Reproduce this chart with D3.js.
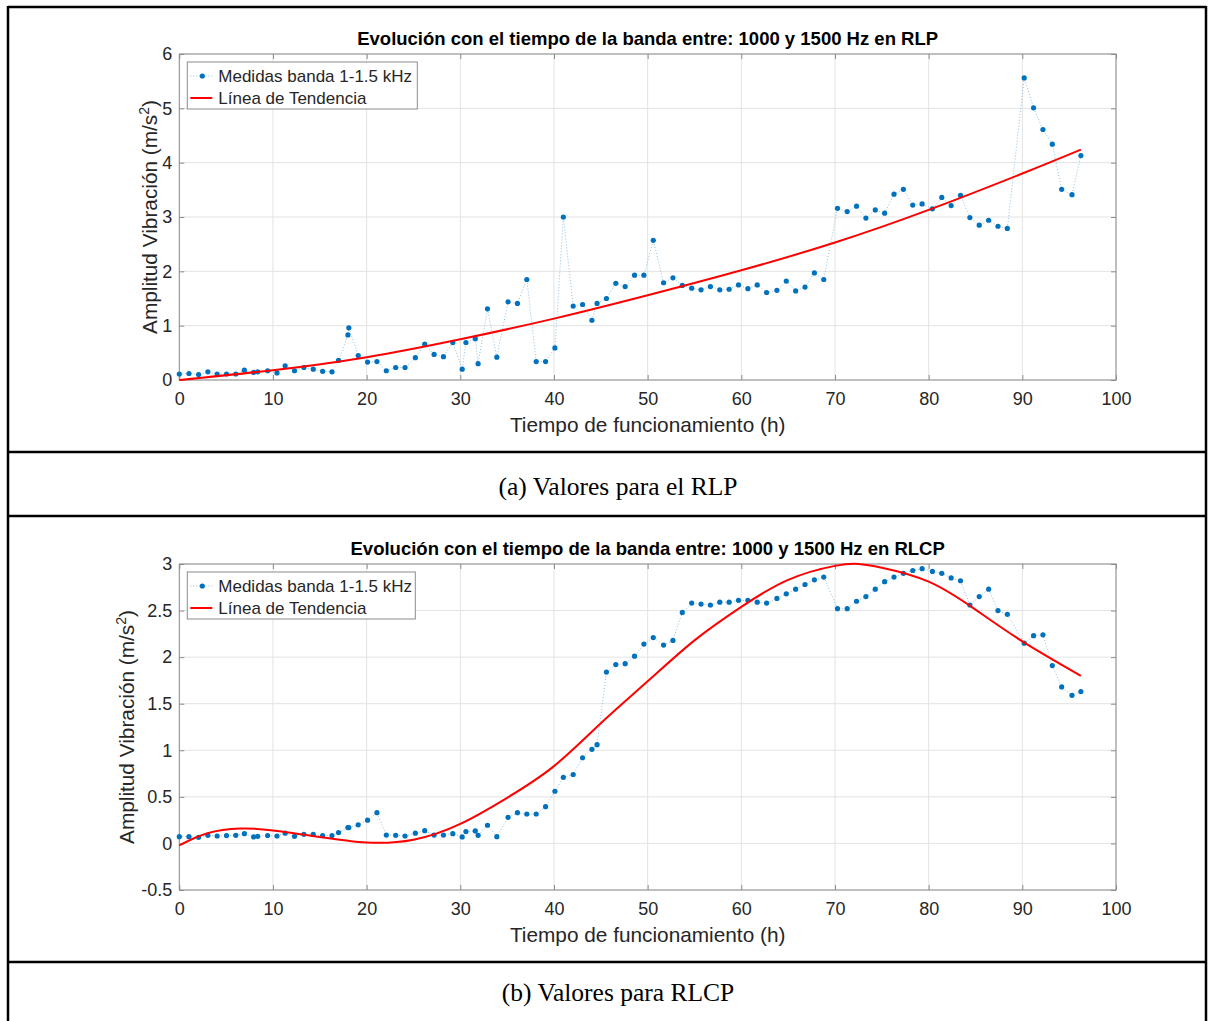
<!DOCTYPE html>
<html>
<head>
<meta charset="utf-8">
<script src="https://cdn.jsdelivr.net/npm/d3@7"></script>
<style>
  body { margin: 0; background: #fff; }
  svg { display: block; }
</style>
</head>
<body>
<div id="fig"></div>
<script>
// tiempos de medida (h), comunes a los dos rodamientos
const horas = [0, 1.03, 2.06, 3.05, 4.04, 5.04, 6.03, 6.95, 7.94, 8.37,
  9.43, 10.43, 11.3, 12.3, 13.3, 14.3, 15.3, 16.3, 17.0, 18.0,
  18.1, 19.1, 20.1, 21.1, 22.1, 23.1, 24.1, 25.2, 26.2, 27.2,
  28.2, 29.2, 30.2, 30.6, 31.6, 31.9, 32.9, 33.9, 35.1, 36.1,
  37.1, 38.1, 39.1, 40.1, 41.0, 42.05, 43.05, 44.05, 44.6, 45.6,
  46.6, 47.6, 48.6, 49.6, 50.6, 51.7, 52.7, 53.7, 54.7, 55.7,
  56.7, 57.7, 58.7, 59.7, 60.7, 61.7, 62.7, 63.8, 64.8, 65.8,
  66.8, 67.8, 68.8, 70.27, 71.3, 72.3, 73.3, 74.3, 75.3, 76.3,
  77.3, 78.3, 79.3, 80.4, 81.4, 82.4, 83.4, 84.4, 85.4, 86.4,
  87.4, 88.4, 90.2, 91.2, 92.2, 93.2, 94.2, 95.3, 96.25];

const amplitudRLP = [0.11, 0.12, 0.10, 0.15, 0.11, 0.11, 0.11, 0.18, 0.14, 0.15,
  0.17, 0.13, 0.26, 0.17, 0.23, 0.20, 0.16, 0.15, 0.36, 0.83,
  0.96, 0.45, 0.33, 0.34, 0.17, 0.23, 0.23, 0.41, 0.66, 0.47,
  0.43, 0.69, 0.20, 0.69, 0.76, 0.30, 1.31, 0.42, 1.44, 1.41,
  1.85, 0.34, 0.34, 0.59, 3.00, 1.36, 1.39, 1.10, 1.41, 1.50,
  1.78, 1.72, 1.93, 1.93, 2.57, 1.79, 1.88, 1.74, 1.69, 1.66,
  1.72, 1.66, 1.67, 1.75, 1.68, 1.75, 1.61, 1.65, 1.82, 1.64,
  1.71, 1.97, 1.85, 3.16, 3.10, 3.20, 2.98, 3.13, 3.07, 3.42,
  3.51, 3.22, 3.24, 3.15, 3.36, 3.21, 3.40, 2.99, 2.85, 2.94,
  2.83, 2.79, 5.56, 5.01, 4.61, 4.34, 3.51, 3.41, 4.13];

const amplitudRLCP = [0.073, 0.073, 0.066, 0.087, 0.08, 0.084, 0.087, 0.105, 0.07, 0.076,
  0.084, 0.08, 0.11, 0.076, 0.098, 0.098, 0.084, 0.084, 0.116, 0.17,
  0.17, 0.2, 0.25, 0.33, 0.09, 0.087, 0.08, 0.11, 0.137, 0.09,
  0.09, 0.105, 0.07, 0.127, 0.134, 0.087, 0.195, 0.073, 0.28, 0.33,
  0.316, 0.316, 0.395, 0.56, 0.71, 0.74, 0.92, 1.01, 1.06, 1.84,
  1.92, 1.93, 2.01, 2.14, 2.21, 2.13, 2.18, 2.48, 2.58, 2.57,
  2.56, 2.59, 2.59, 2.61, 2.61, 2.59, 2.58, 2.63, 2.68, 2.73,
  2.78, 2.83, 2.86, 2.52, 2.52, 2.60, 2.65, 2.73, 2.81, 2.86,
  2.90, 2.93, 2.95, 2.92, 2.90, 2.85, 2.82, 2.56, 2.65, 2.73,
  2.50, 2.46, 2.15, 2.23, 2.24, 1.91, 1.68, 1.59, 1.63];

// lineas de tendencia
const tendRLP_x = [0, 10, 20, 30, 40, 50, 60, 70, 80, 90, 96.25];
const tendRLP_y = [0, 0.18, 0.42, 0.75, 1.13, 1.56, 2.02, 2.53, 3.13, 3.80, 4.24];
const tendRLCP_x = [0, 3, 6.5, 10, 15, 20, 25, 30, 35, 40, 45, 50, 55, 60, 65, 70, 72.5, 75, 80, 85, 90, 96.25];
const tendRLCP_y = [-0.02, 0.11, 0.16, 0.14, 0.07, 0.01, 0.04, 0.21, 0.49, 0.83, 1.29, 1.74, 2.18, 2.54, 2.83, 2.98, 3.0, 2.96, 2.81, 2.51, 2.17, 1.80];

const xTicks = [0, 10, 20, 30, 40, 50, 60, 70, 80, 90, 100];
const yTicksRLP = [0, 1, 2, 3, 4, 5, 6];
const yTicksRLCP = [-0.5, 0, 0.5, 1, 1.5, 2, 2.5, 3];

const W = 1208, H = 1021;
const PLOT_L = 179.3, PLOT_R = 1116;
const FONT = "'Liberation Sans', Arial, Helvetica, sans-serif";
const BLUE = "#0072BD";

const svg = d3.select("#fig").append("svg")
  .attr("width", W)
  .attr("height", H);

svg.append("rect").attr("width", W).attr("height", H).attr("fill", "#fff");

function panel(o) {
  const g = svg.append("g");
  const x = d3.scaleLinear().domain([0, 100]).range([PLOT_L, PLOT_R]);
  const y = d3.scaleLinear().domain(o.yDomain).range([o.bottom, o.top]);

  // grid
  g.append("g").selectAll("line").data(xTicks).join("line")
    .attr("x1", d => x(d)).attr("x2", d => x(d))
    .attr("y1", o.top).attr("y2", o.bottom)
    .attr("stroke", "#e3e3e3").attr("stroke-width", 1);
  g.append("g").selectAll("line").data(o.yTicks).join("line")
    .attr("x1", PLOT_L).attr("x2", PLOT_R)
    .attr("y1", d => y(d)).attr("y2", d => y(d))
    .attr("stroke", "#e3e3e3").attr("stroke-width", 1);

  // axes (ticks hacia dentro)
  const fmt = d => String(d);
  const ax = [
    g.append("g").attr("transform", `translate(0,${o.bottom})`)
      .call(d3.axisBottom(x).tickValues(xTicks).tickFormat(fmt).tickSizeInner(-5).tickSizeOuter(0).tickPadding(12)),
    g.append("g").attr("transform", `translate(0,${o.top})`)
      .call(d3.axisTop(x).tickValues(xTicks).tickFormat("").tickSizeInner(-5).tickSizeOuter(0)),
    g.append("g").attr("transform", `translate(${PLOT_L},0)`)
      .call(d3.axisLeft(y).tickValues(o.yTicks).tickFormat(fmt).tickSizeInner(-5).tickSizeOuter(0).tickPadding(7)),
    g.append("g").attr("transform", `translate(${PLOT_R},0)`)
      .call(d3.axisRight(y).tickValues(o.yTicks).tickFormat("").tickSizeInner(-5).tickSizeOuter(0))
  ];
  ax.forEach(a => {
    a.select(".domain").remove();
    a.selectAll("line").attr("stroke", "#8c8c8c");
    a.selectAll("text").attr("font-family", FONT).attr("font-size", 18).attr("fill", "#262626");
  });

  g.append("rect")
    .attr("x", PLOT_L).attr("y", o.top)
    .attr("width", PLOT_R - PLOT_L).attr("height", o.bottom - o.top)
    .attr("fill", "none").attr("stroke", "#8c8c8c").attr("stroke-width", 1);

  // medidas
  const pts = horas.map((h, i) => ({ h, v: o.values[i] }));
  const line = d3.line().x(d => x(d.h)).y(d => y(d.v));
  g.append("path").datum(pts)
    .attr("d", line)
    .attr("fill", "none")
    .attr("stroke", "#8dbfe0")
    .attr("stroke-width", 1)
    .attr("stroke-dasharray", "1,2");
  g.append("g").selectAll("circle").data(pts).join("circle")
    .attr("cx", d => x(d.h)).attr("cy", d => y(d.v))
    .attr("r", 2.6).attr("fill", BLUE);

  // tendencia
  const tend = o.trendX.map((h, i) => ({ h, v: o.trendY[i] }));
  g.append("path").datum(tend)
    .attr("d", d3.line().x(d => x(d.h)).y(d => y(d.v)).curve(d3.curveNatural))
    .attr("fill", "none").attr("stroke", "#ff0000").attr("stroke-width", 2);

  // legend
  const lx = PLOT_L + 8, ly = o.top + 8;
  const lg = g.append("g");
  lg.append("rect").attr("x", lx).attr("y", ly).attr("width", o.legendW).attr("height", 47)
    .attr("fill", "#fff").attr("stroke", "#8c8c8c").attr("stroke-width", 1);
  lg.append("line").attr("x1", lx + 3).attr("x2", lx + 25).attr("y1", ly + 14).attr("y2", ly + 14)
    .attr("stroke", "#8dbfe0").attr("stroke-width", 1).attr("stroke-dasharray", "1,2");
  lg.append("circle").attr("cx", lx + 15).attr("cy", ly + 14).attr("r", 2.6).attr("fill", BLUE);
  lg.append("line").attr("x1", lx + 3).attr("x2", lx + 25).attr("y1", ly + 36).attr("y2", ly + 36)
    .attr("stroke", "#ff0000").attr("stroke-width", 2);
  lg.selectAll("text").data(["Medidas banda 1-1.5 kHz", "Línea de Tendencia"]).join("text")
    .attr("x", lx + 31).attr("y", (d, i) => ly + 14 + i * 22)
    .attr("dy", "0.35em")
    .attr("font-family", FONT).attr("font-size", 17).attr("fill", "#262626")
    .text(d => d);

  // title & labels
  g.append("text")
    .attr("x", (PLOT_L + PLOT_R) / 2).attr("y", o.top - 9)
    .attr("text-anchor", "middle")
    .attr("font-family", FONT).attr("font-size", 18.5).attr("font-weight", "bold")
    .attr("fill", "#000")
    .text(o.title);

  g.append("text")
    .attr("x", (PLOT_L + PLOT_R) / 2).attr("y", o.bottom + 52)
    .attr("text-anchor", "middle")
    .attr("font-family", FONT).attr("font-size", 20.8).attr("fill", "#262626")
    .text("Tiempo de funcionamiento (h)");

  const yl = g.append("text")
    .attr("transform", `translate(${o.ylabelX},${(o.top + o.bottom) / 2}) rotate(-90)`)
    .attr("text-anchor", "middle")
    .attr("font-family", FONT).attr("font-size", 20.8).attr("fill", "#262626");
  yl.append("tspan").text("Amplitud Vibración (m/s");
  yl.append("tspan").attr("dy", -8).attr("font-size", 14).text("2");
  yl.append("tspan").attr("dy", 8).text(")");

  // caption
  svg.append("text")
    .attr("x", 618).attr("y", o.captionY)
    .attr("text-anchor", "middle")
    .attr("font-family", "'Liberation Serif', 'Times New Roman', serif")
    .attr("font-size", 25.5).attr("fill", "#000")
    .text(o.caption);
}

panel({
  top: 54, bottom: 380, yDomain: [0, 6], yTicks: yTicksRLP,
  values: amplitudRLP, trendX: tendRLP_x, trendY: tendRLP_y,
  title: "Evolución con el tiempo de la banda entre: 1000 y 1500 Hz en RLP",
  ylabelX: 157, legendW: 230,
  caption: "(a) Valores para el RLP", captionY: 495
});

panel({
  top: 564, bottom: 890, yDomain: [-0.5, 3], yTicks: yTicksRLCP,
  values: amplitudRLCP, trendX: tendRLCP_x, trendY: tendRLCP_y,
  title: "Evolución con el tiempo de la banda entre: 1000 y 1500 Hz en RLCP",
  ylabelX: 134, legendW: 228,
  caption: "(b) Valores para RLCP", captionY: 1001
});

// marco de tabla
const frame = svg.append("g").attr("stroke", "#000").attr("stroke-width", 2.5);
frame.append("line").attr("x1", 8).attr("x2", 8).attr("y1", 6).attr("y2", H);
frame.append("line").attr("x1", 1206).attr("x2", 1206).attr("y1", 6).attr("y2", H);
[7, 452, 516, 962].forEach(yy => {
  frame.append("line").attr("x1", 8).attr("x2", 1206).attr("y1", yy).attr("y2", yy);
});
</script>
</body>
</html>
